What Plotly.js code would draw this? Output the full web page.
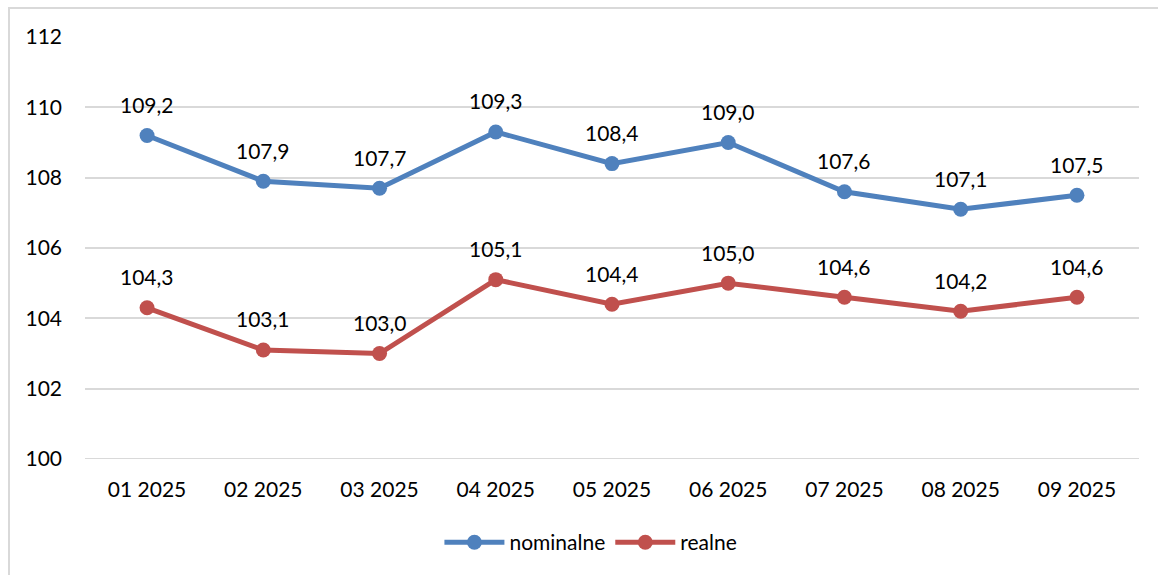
<!DOCTYPE html>
<html>
<head>
<meta charset="utf-8">
<script src="https://cdn.plot.ly/plotly-3.0.1.min.js"></script>
<style>
html,body{margin:0;padding:0;background:#fff;overflow:hidden;}
#frame{position:absolute;left:8px;top:7px;width:1200px;height:620px;border:2px solid #D9D9D9;box-sizing:border-box;pointer-events:none;z-index:5;}
#chart{width:1158px;height:575px;}
</style>
</head>
<body>
<div id="frame"></div>
<div id="chart"></div>
<script>
const categories = ["01 2025","02 2025","03 2025","04 2025","05 2025","06 2025","07 2025","08 2025","09 2025"];
const nominalne = [109.2,107.9,107.7,109.3,108.4,109.0,107.6,107.1,107.5];
const realne = [104.3,103.1,103.0,105.1,104.4,105.0,104.6,104.2,104.6];
const yTicks = [100,102,104,106,108,110,112];

const FONT = "Lato, 'Open Sans', sans-serif";
const FS = 21;
const fmt = v => v.toFixed(1).replace('.', ',');

function series(name, vals, color){
  return {
    type:'scatter', mode:'lines+markers', name:name,
    x:categories, y:vals,
    line:{color:color, width:5},
    marker:{color:color, size:15},
    hoverinfo:'skip'
  };
}

const annotations = [];
[nominalne, realne].forEach(vals => {
  vals.forEach((v,i) => {
    annotations.push({
      x:categories[i], y:v, xref:'x', yref:'y',
      text:fmt(v), showarrow:false, yshift:31,
      font:{family:FONT, size:FS, color:'#000'}
    });
  });
});

const data = [series('nominalne', nominalne, '#4F81BD'), series('realne', realne, '#C0504D')];

const layout = {
  width:1158, height:575,
  margin:{l:85, r:19, t:37, b:114},
  paper_bgcolor:'#fff', plot_bgcolor:'#fff',
  font:{family:FONT, size:FS, color:'#000'},
  separators:', ',
  showlegend:true,
  legend:{orientation:'h', x:0.48, xanchor:'center', y:-0.198, yanchor:'middle',
          font:{family:FONT, size:FS, color:'#000'}, itemwidth:60, traceorder:'normal'},
  xaxis:{type:'category', showgrid:false, zeroline:false, showline:false, ticks:'',
         tickfont:{family:FONT, size:FS, color:'#000'}, ticklabelstandoff:16, fixedrange:true},
  yaxis:{range:[100,112], tickvals:yTicks, ticktext:yTicks.map(String),
         showgrid:true, gridcolor:'#D9D9D9', gridwidth:2, zeroline:false, showline:false, ticks:'',
         tickfont:{family:FONT, size:FS, color:'#000'}, ticklabelstandoff:22, fixedrange:true},
  shapes:[{type:'line', xref:'paper', yref:'y', x0:0, x1:1, y0:yTicks[0], y1:yTicks[0],
           line:{color:'#D9D9D9', width:2}, layer:'below'}],
  annotations:annotations
};

Plotly.newPlot('chart', data, layout, {displayModeBar:false, staticPlot:true});
</script>
</body>
</html>
